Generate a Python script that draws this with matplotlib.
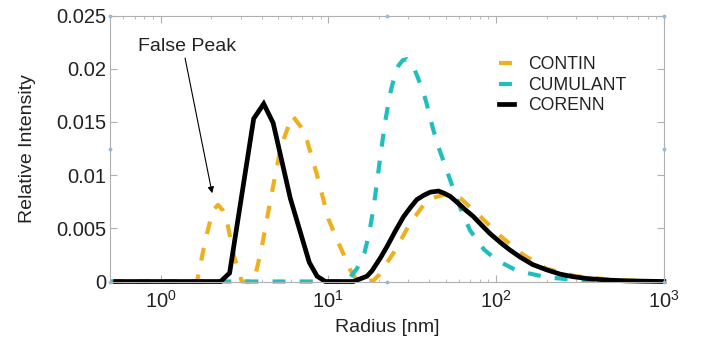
import matplotlib
matplotlib.use("Agg")
import matplotlib.pyplot as plt

plt.rcParams['font.family'] = ['Liberation Sans', 'DejaVu Sans']
plt.rcParams['mathtext.fontset'] = 'custom'
plt.rcParams['mathtext.rm'] = 'Liberation Sans'
plt.rcParams['mathtext.default'] = 'regular'

# size distributions (radius in nm, relative intensity)
contin_r = [0.5, 1.65, 1.85, 2.05, 2.2, 2.35, 2.5, 2.75, 3.05, 3.6, 4.0, 4.5, 5.2,
            6.1, 7.2, 8.5, 10.0, 11.3, 12.3, 13.5, 15.0, 18.6, 20.0, 24.5, 30.8,
            39.0, 49.7, 61.6, 79.5, 105.6, 145.5, 200.0, 300.0, 500.0, 1000.0]
contin_i = [0.0, 0.0, 0.0039, 0.0067, 0.0072, 0.0067, 0.0055, 0.0023, 0.0, 0.0,
            0.0031, 0.0075, 0.0126, 0.0156, 0.0141, 0.0102, 0.0059, 0.0039, 0.0026,
            0.0011, 0.0, 0.0001, 0.0006, 0.0027, 0.0055, 0.0077, 0.0082, 0.0078,
            0.0062, 0.0043, 0.0025, 0.0012, 0.0005, 0.00015, 0.0]

cumulant_r = [0.5, 13.2, 13.8, 14.8, 16.4, 17.5, 18.6, 20.1, 20.6, 21.8, 23.4, 24.8,
              26.2, 27.8, 29.4, 31.0, 32.5, 33.7, 36.1, 38.3, 42.0, 45.0, 52.0,
              60.5, 70.0, 84.8, 101.0, 134.0, 200.0, 302.0, 1000.0]
cumulant_i = [0.0, 0.0, 0.0006, 0.0012, 0.00265, 0.0045, 0.0069, 0.0109, 0.0122,
              0.0150, 0.0177, 0.0193, 0.0203, 0.0208, 0.0209, 0.0206, 0.0200,
              0.0194, 0.0182, 0.0169, 0.0144, 0.0128, 0.0100, 0.0071, 0.0048,
              0.0030, 0.0020, 0.0010, 0.0004, 0.00014, 0.0]

corenn_r = [0.54, 2.28, 2.58, 3.59, 4.12, 4.69, 5.94, 7.7, 8.57, 9.6, 14.1, 17.0,
            18.2, 20.4, 22.4, 25.0, 28.1, 31.0, 33.7, 37.0, 40.5, 45.4, 49.0, 53.3,
            61.0, 66.0, 73.3, 82.0, 92.1, 105.6, 120.0, 139.0, 165.0, 200.0,
            240.0, 288.0, 350.0, 456.0, 600.0, 1000.0]
corenn_i = [0.0, 0.0, 0.0008, 0.0153, 0.0167, 0.0149, 0.0078, 0.0018, 0.0005, 0.0,
            0.0, 0.0005, 0.0010, 0.0022, 0.0033, 0.0047, 0.0061, 0.0070, 0.0077,
            0.0081, 0.0084, 0.0085, 0.0083, 0.0080, 0.0072, 0.0067, 0.0061,
            0.0053, 0.0045, 0.0037, 0.0030, 0.0023, 0.0016, 0.0011, 0.0007,
            0.00045, 0.00028, 0.00014, 0.00006, 0.0]

ytick_vals = [0, 0.005, 0.01, 0.015, 0.02, 0.025]
ytick_labels = ['0', '0.005', '0.01', '0.015', '0.02', '0.025']
xtick_vals = [1, 10, 100, 1000]
xtick_labels = ['$10^0$', '$10^1$', '$10^2$', '$10^3$']

orange = '#EDB120'
teal = '#1FBFBF'
edge = '#b0b0b0'
txt = '#222222'

fig = plt.figure(figsize=(7.1, 3.45), dpi=100)
ax = fig.add_axes([0.155, 0.184, 0.78, 0.771])

ax.plot(contin_r, contin_i, color=orange, lw=3, dashes=(3.1, 3.4),
        label='CONTIN', clip_on=False)
ax.plot(cumulant_r, cumulant_i, color=teal, lw=3, dashes=(3.1, 3.4),
        label='CUMULANT', clip_on=False)
ax.plot(corenn_r, corenn_i, color='black', lw=3.4, label='CORENN',
        clip_on=False, solid_joinstyle='miter')

ax.set_xscale('log')
ax.set_xlim(0.5, 1000)
ax.set_ylim(0, 0.025)
ax.set_xticks(xtick_vals)
ax.set_xticklabels(xtick_labels)
ax.set_yticks(ytick_vals)
ax.set_yticklabels(ytick_labels)

ax.tick_params(which='both', direction='in', top=True, right=True,
               color=edge, labelcolor=txt, labelsize=14.5)
ax.tick_params(which='major', length=5, width=0.8)
ax.tick_params(which='minor', length=2.5, width=0.6)
ax.tick_params(axis='y', pad=3)
ax.tick_params(axis='x', pad=6)
for s in ax.spines.values():
    s.set_color(edge)
    s.set_linewidth(0.8)

ax.set_xlabel('Radius [nm]', fontsize=14, color=txt, labelpad=5)
ax.set_ylabel('Relative Intensity', fontsize=14, color=txt, labelpad=14)

# small edit handles on the axes box
for fx in (0, 0.5, 1):
    for fy in (0, 0.5, 1):
        if fx == 0.5 and fy == 0.5:
            continue
        ax.plot(fx, fy, 'o', ms=2.2, mfc='#9cc3e8', mec='#7fb0de', mew=0.5,
                transform=ax.transAxes, clip_on=False, zorder=5)

ax.text(0.73, 0.0221, 'False Peak', fontsize=14, color=txt, va='center')
ax.annotate('', xy=(2.03, 0.0083), xytext=(1.40, 0.0210),
            arrowprops=dict(arrowstyle='-|>', color='black', lw=0.8,
                            mutation_scale=9, shrinkA=0, shrinkB=0))

ax.legend(loc='upper left', bbox_to_anchor=(0.673, 0.906), frameon=False,
          fontsize=12.7, handlelength=0.85, handletextpad=0.8,
          labelspacing=0.2, labelcolor=txt)

fig.savefig('out.png', dpi=100, facecolor='white')
